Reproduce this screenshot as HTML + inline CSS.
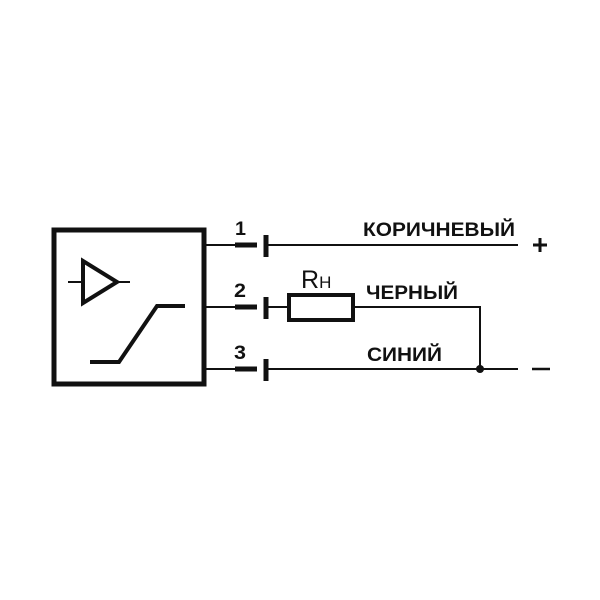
<!DOCTYPE html><html><head><style>body{margin:0;background:#fff}svg{display:block}text{font-family:"Liberation Sans",sans-serif;font-weight:bold;fill:#111}</style></head><body>
<svg width="600" height="600" viewBox="0 0 600 600">
<rect x="54" y="230" width="150" height="154" fill="none" stroke="#111" stroke-width="5"/>
<g stroke="#111" fill="none">
<polygon points="83,261 83,303 117,282" stroke-width="4"/>
<line x1="68" y1="282" x2="83" y2="282" stroke-width="2"/><line x1="117" y1="282" x2="130" y2="282" stroke-width="2"/>
<polyline points="90,362 119,362 157,306 185,306" stroke-width="4"/>
<g stroke-width="2"><line x1="206" y1="245" x2="236" y2="245"/><line x1="206" y1="307" x2="236" y2="307"/><line x1="206" y1="369" x2="236" y2="369"/></g>
<g stroke-width="5"><line x1="235" y1="245" x2="257" y2="245"/><line x1="235" y1="307" x2="257" y2="307"/><line x1="235" y1="369" x2="257" y2="369"/>
<line x1="266" y1="235" x2="266" y2="257"/><line x1="266" y1="297" x2="266" y2="319"/><line x1="266" y1="359" x2="266" y2="381"/></g>
<g stroke-width="2"><line x1="266" y1="245" x2="518" y2="245"/><line x1="266" y1="307" x2="289" y2="307"/><polyline points="353,307 480,307 480,369"/><line x1="266" y1="369" x2="518" y2="369"/></g>
<rect x="289" y="295" width="64" height="25" stroke-width="4"/>
<line x1="533" y1="245" x2="547" y2="245" stroke-width="3"/><line x1="540" y1="238" x2="540" y2="252" stroke-width="3"/>
<line x1="532" y1="369" x2="550" y2="369" stroke-width="2.5"/>
</g>
<circle cx="480" cy="369" r="4" fill="#111"/>
<text x="235" y="235" font-size="19" textLength="11" lengthAdjust="spacingAndGlyphs">1</text>
<text x="234" y="297" font-size="19" textLength="12" lengthAdjust="spacingAndGlyphs">2</text>
<text x="234" y="359" font-size="19" textLength="12" lengthAdjust="spacingAndGlyphs">3</text>
<text x="301" y="288" font-size="25" style="font-weight:normal">R<tspan font-size="17">H</tspan></text>
<text x="363" y="236" font-size="19" textLength="152" lengthAdjust="spacingAndGlyphs">КОРИЧНЕВЫЙ</text>
<text x="366" y="299" font-size="19" textLength="92" lengthAdjust="spacingAndGlyphs">ЧЕРНЫЙ</text>
<text x="367" y="361" font-size="19" textLength="75" lengthAdjust="spacingAndGlyphs">СИНИЙ</text>
</svg></body></html>
